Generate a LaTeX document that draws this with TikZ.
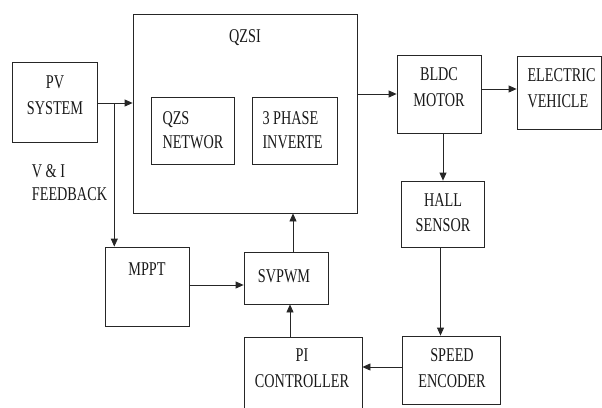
\documentclass[tikz,border=0pt]{standalone}
\usepackage{fontspec}
\setmainfont[FakeStretch=0.73]{Liberation Serif}
\usetikzlibrary{arrows.meta}
\tikzset{
  blockbox/.style={draw=black!85, line width=0.8pt, inner sep=0pt, fill=none},
  lbl/.style={inner sep=0pt, align=center, text=black!90, font=\fontsize{19.5}{26}\selectfont},
  lbll/.style={inner sep=0pt, align=left, anchor=west, text=black!90, font=\fontsize{19.5}{24}\selectfont},
  arr/.style={draw=black!85, line width=0.8pt, -{Triangle[length=8pt,width=7pt]}},
}
\begin{document}
\begin{tikzpicture}[x=1pt,y=-1pt]
\useasboundingbox (0,0) rectangle (602,407);
% boxes
\node[blockbox, minimum width=85, minimum height=80] (pv) at (54.5,102) {};
\node[blockbox, minimum width=224, minimum height=199] (qzsi) at (245,113.5) {};
\node[blockbox, minimum width=83, minimum height=67] (qzs) at (192.5,130.5) {};
\node[blockbox, minimum width=85, minimum height=67] (inv) at (294.5,130.5) {};
\node[blockbox, minimum width=84, minimum height=79] (mppt) at (147,286.5) {};
\node[blockbox, minimum width=84, minimum height=52] (svpwm) at (286,278) {};
\node[blockbox, minimum width=118, minimum height=72] (pi) at (303,373) {};
\node[blockbox, minimum width=84, minimum height=78] (bldc) at (439,94) {};
\node[blockbox, minimum width=84, minimum height=73] (ev) at (559,92.5) {};
\node[blockbox, minimum width=83, minimum height=66] (hall) at (442.5,214) {};
\node[blockbox, minimum width=98, minimum height=68] (speed) at (451,370) {};
% labels
\node[lbl] (tpv) at (55,95.5) {PV\\SYSTEM};
\node[lbl, anchor=base] (tqzsi) at (245,42) {QZSI};
\node[lbll] (tqzs) at (162.3,130) {QZS\\NETWOR};
\node[lbll] (tinv) at (262.3,130) {3 PHASE\\INVERTE};
\node[lbll, font=\fontsize{19.5}{23}\selectfont] (tfb) at (31.7,183) {V \& I\\FEEDBACK};
\node[lbl, anchor=base] (tmppt) at (147,275) {MPPT};
\node[lbl, anchor=base] (tsvpwm) at (284,282) {SVPWM};
\node[lbl] (tpi) at (302,368.5) {PI\\CONTROLLER};
\node[lbl] (tbldc) at (439,86.7) {BLDC\\MOTOR};
\node[lbll, font=\fontsize{19.5}{26}\selectfont] (tev) at (527.3,88.2) {ELECTRIC\\VEHICLE};
\node[lbl, font=\fontsize{19.5}{25.5}\selectfont] (thall) at (443,212.5) {HALL\\SENSOR};
\node[lbl] (tspeed) at (452,368.2) {SPEED\\ENCODER};
% connectors
\coordinate (tap) at (114.3,103);
\draw[arr] (pv.east |- tap) -- (qzsi.west |- tap);
\draw[arr] (tap) -- (mppt.north -| tap);
\draw[arr] (qzsi.east |- 0,94) -- (bldc.west |- 0,94);
\draw[arr] (bldc.east |- 0,89) -- (ev.west |- 0,89);
\draw[arr] (bldc.south -| 443,0) -- (hall.north -| 443,0);
\draw[arr] (hall.south -| 440.5,0) -- (speed.north -| 440.5,0);
\draw[arr] (speed.west |- 0,367) -- (pi.east |- 0,367);
\draw[arr] (pi.north -| 290,0) -- (svpwm.south -| 290,0);
\draw[arr] (mppt.east |- 0,285) -- (svpwm.west |- 0,285);
\draw[arr] (svpwm.north -| 293,0) -- (qzsi.south -| 293,0);
\end{tikzpicture}
\end{document}
